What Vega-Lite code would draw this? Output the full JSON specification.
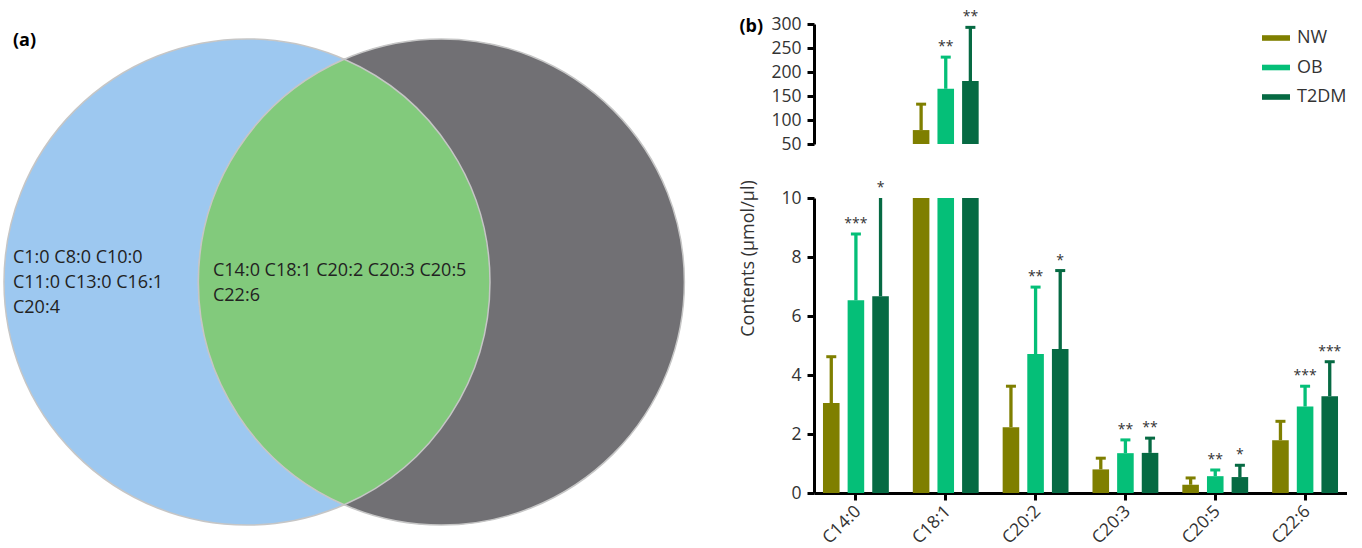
{
  "$schema": "https://vega.github.io/schema/vega-lite/v6.json",
  "padding": {"left": 0, "top": 10, "right": 0, "bottom": 0},
  "background": "white",
  "bounds": "flush",
  "spacing": 123,
  "config": {
    "view": {"stroke": null},
    "font": "Open Sans",
    "axis": {"labelFont": "Open Sans", "titleFont": "Open Sans", "labelOverlap": false},
    "legend": {"labelFont": "Open Sans"}
  },
  "datasets": {
    "fa": [
      {"acid": "C14:0", "group": "NW", "mean": 3.05, "hi": 4.62, "sig": ""},
      {"acid": "C14:0", "group": "OB", "mean": 6.53, "hi": 8.78, "sig": "***"},
      {"acid": "C14:0", "group": "T2DM", "mean": 6.67, "hi": 11.2, "sig": "*"},
      {"acid": "C18:1", "group": "NW", "mean": 79, "hi": 133, "sig": ""},
      {"acid": "C18:1", "group": "OB", "mean": 165, "hi": 231, "sig": "**"},
      {"acid": "C18:1", "group": "T2DM", "mean": 181, "hi": 293, "sig": "**"},
      {"acid": "C20:2", "group": "NW", "mean": 2.23, "hi": 3.62, "sig": ""},
      {"acid": "C20:2", "group": "OB", "mean": 4.71, "hi": 6.98, "sig": "**"},
      {"acid": "C20:2", "group": "T2DM", "mean": 4.88, "hi": 7.54, "sig": "*"},
      {"acid": "C20:3", "group": "NW", "mean": 0.8, "hi": 1.18, "sig": ""},
      {"acid": "C20:3", "group": "OB", "mean": 1.35, "hi": 1.8, "sig": "**"},
      {"acid": "C20:3", "group": "T2DM", "mean": 1.36, "hi": 1.86, "sig": "**"},
      {"acid": "C20:5", "group": "NW", "mean": 0.28, "hi": 0.51, "sig": ""},
      {"acid": "C20:5", "group": "OB", "mean": 0.57, "hi": 0.78, "sig": "**"},
      {"acid": "C20:5", "group": "T2DM", "mean": 0.54, "hi": 0.94, "sig": "*"},
      {"acid": "C22:6", "group": "NW", "mean": 1.79, "hi": 2.43, "sig": ""},
      {"acid": "C22:6", "group": "OB", "mean": 2.93, "hi": 3.62, "sig": "***"},
      {"acid": "C22:6", "group": "T2DM", "mean": 3.28, "hi": 4.45, "sig": "***"}
    ]
  },
  "hconcat": [
    {
      "width": 690,
      "height": 524,
      "encoding": {
        "x": {"field": "cx", "type": "quantitative", "scale": {"domain": [-1.0123, 1.8272], "nice": false, "zero": false}, "axis": null},
        "y": {"field": "cy", "type": "quantitative", "scale": {"domain": [-1.0947, 1.0617], "nice": false, "zero": false}, "axis": null}
      },
      "layer": [
        {
          "data": {"values": [{"set": "Differential in OB vs NW", "cx": 0, "cy": 0}]},
          "mark": {"type": "point", "shape": "circle", "filled": true, "size": 236196, "fill": "#9dc8f0", "stroke": "#c6c6c6", "strokeWidth": 1.5, "opacity": 1}
        },
        {
          "data": {"values": [{"set": "Differential in T2DM vs NW", "cx": 0.8, "cy": 0}]},
          "mark": {"type": "point", "shape": "circle", "filled": true, "size": 236196, "fill": "#717074", "stroke": "#c6c6c6", "strokeWidth": 1.5, "opacity": 1}
        },
        {
          "data": {"values": [{"set": "Shared", "cx": 0.4, "cy": 0}]},
          "mark": {"type": "point", "shape": "M0,-0.9165A1,1,0,0,1,0,0.9165A1,1,0,0,1,0,-0.9165Z", "filled": true, "size": 236196, "fill": "#82ca7c", "stroke": "#c6c6c6", "strokeWidth": 1.5, "opacity": 1}
        },
        {
          "data": {"values": [
            {"t": "C1:0 C8:0 C10:0", "cx": -0.963, "cy": 0.0794},
            {"t": "C11:0 C13:0 C16:1", "cx": -0.963, "cy": -0.026},
            {"t": "C20:4", "cx": -0.963, "cy": -0.1288},
            {"t": "C14:0 C18:1 C20:2 C20:3 C20:5", "cx": -0.1399, "cy": 0.0247},
            {"t": "C22:6", "cx": -0.1399, "cy": -0.0782}
          ]},
          "mark": {"type": "text", "align": "left", "baseline": "alphabetic", "fontSize": 18, "color": "#222222"},
          "encoding": {"text": {"field": "t"}}
        },
        {
          "data": {"values": [{"t": "(a)", "cx": -0.963, "cy": 0.9712}]},
          "mark": {"type": "text", "align": "left", "baseline": "alphabetic", "fontSize": 18, "fontWeight": "bold", "color": "#000000"},
          "encoding": {"text": {"field": "t"}}
        }
      ]
    },
    {
      "bounds": "flush",
      "spacing": 54,
      "resolve": {"scale": {"color": "independent"}, "legend": {"color": "independent"}},
      "vconcat": [
        {
          "width": 533,
          "height": 120,
          "data": {"name": "fa"},
          "transform": [{"filter": "datum.acid === 'C18:1'"}],
          "encoding": {
            "x": {"field": "acid", "type": "nominal", "sort": null, "scale": {"domain": ["C14:0", "C18:1", "C20:2", "C20:3", "C20:5", "C22:6"], "paddingInner": 0.267, "paddingOuter": 0.1}, "axis": null},
            "xOffset": {"field": "group", "type": "nominal", "scale": {"domain": ["NW", "OB", "T2DM"], "paddingInner": 0.327, "paddingOuter": 0}},
            "color": {"field": "group", "type": "nominal", "scale": {"domain": ["NW", "OB", "T2DM"], "range": ["#7f7f00", "#05bf78", "#066a43"]},
              "legend": {"orient": "none", "legendX": 448, "legendY": 0, "title": null, "symbolType": "M-1,-0.2H1V0.2H-1Z", "symbolSize": 784, "symbolStrokeWidth": 0, "symbolOpacity": 1, "labelFontSize": 18, "labelColor": "#333333", "labelOffset": 7, "rowPadding": 6.5, "padding": 0}}
          },
          "layer": [
            {
              "mark": {"type": "bar", "clip": true, "opacity": 1},
              "encoding": {
                "y": {"field": "mean", "type": "quantitative", "stack": null, "scale": {"domain": [50, 300], "nice": false, "zero": false},
                  "axis": {"values": [50, 100, 150, 200, 250, 300], "labelOverlap": false, "grid": false, "domainColor": "#000000", "domainWidth": 3, "tickColor": "#000000", "tickWidth": 3, "tickSize": 7, "labelFontSize": 17.5, "labelColor": "#333333", "labelPadding": 6,
                    "title": "(b)", "titleAngle": 0, "titleX": -75, "titleY": 2, "titleAlign": "left", "titleBaseline": "middle", "titleFontWeight": "bold", "titleFontSize": 18, "titleColor": "#000000"}},
                "y2": {"datum": 50}
              }
            },
            {
              "mark": {"type": "rule", "strokeWidth": 3.3, "opacity": 1},
              "encoding": {"y": {"field": "mean", "type": "quantitative",
                  "axis": {"values": [50, 100, 150, 200, 250, 300], "labelOverlap": false, "grid": false, "domainColor": "#000000", "domainWidth": 3, "tickColor": "#000000", "tickWidth": 3, "tickSize": 7, "labelFontSize": 17.5, "labelColor": "#333333", "labelPadding": 6,
                    "title": "(b)", "titleAngle": 0, "titleX": -75, "titleY": 2, "titleAlign": "left", "titleBaseline": "middle", "titleFontWeight": "bold", "titleFontSize": 18, "titleColor": "#000000"}}, "y2": {"field": "hi"}}
            },
            {
              "mark": {"type": "tick", "size": 10, "thickness": 3, "opacity": 1},
              "encoding": {"y": {"field": "hi", "type": "quantitative",
                  "axis": {"values": [50, 100, 150, 200, 250, 300], "labelOverlap": false, "grid": false, "domainColor": "#000000", "domainWidth": 3, "tickColor": "#000000", "tickWidth": 3, "tickSize": 7, "labelFontSize": 17.5, "labelColor": "#333333", "labelPadding": 6,
                    "title": "(b)", "titleAngle": 0, "titleX": -75, "titleY": 2, "titleAlign": "left", "titleBaseline": "middle", "titleFontWeight": "bold", "titleFontSize": 18, "titleColor": "#000000"}}}
            },
            {
              "mark": {"type": "text", "dy": -6, "fontSize": 14, "baseline": "alphabetic", "align": "center"},
              "encoding": {"y": {"field": "hi", "type": "quantitative",
                  "axis": {"values": [50, 100, 150, 200, 250, 300], "labelOverlap": false, "grid": false, "domainColor": "#000000", "domainWidth": 3, "tickColor": "#000000", "tickWidth": 3, "tickSize": 7, "labelFontSize": 17.5, "labelColor": "#333333", "labelPadding": 6,
                    "title": "(b)", "titleAngle": 0, "titleX": -75, "titleY": 2, "titleAlign": "left", "titleBaseline": "middle", "titleFontWeight": "bold", "titleFontSize": 18, "titleColor": "#000000"}}, "text": {"field": "sig"}, "color": {"value": "#333333"}}
            }
          ]
        },
        {
          "width": 533,
          "height": 295,
          "data": {"name": "fa"},
          "encoding": {
            "x": {"field": "acid", "type": "nominal", "sort": null, "scale": {"domain": ["C14:0", "C18:1", "C20:2", "C20:3", "C20:5", "C22:6"], "paddingInner": 0.267, "paddingOuter": 0.1},
              "axis": {"title": null, "labelAngle": -45, "labelAlign": "right", "labelBaseline": "top", "labelFontSize": 17.5, "labelColor": "#333333", "domainColor": "#000000", "domainWidth": 3, "tickColor": "#000000", "tickWidth": 3, "tickSize": 7, "labelPadding": 2, "labelOffset": -4}},
            "xOffset": {"field": "group", "type": "nominal", "scale": {"domain": ["NW", "OB", "T2DM"], "paddingInner": 0.327, "paddingOuter": 0}},
            "color": {"field": "group", "type": "nominal", "scale": {"domain": ["NW", "OB", "T2DM"], "range": ["#7f7f00", "#05bf78", "#066a43"]}, "legend": null}
          },
          "layer": [
            {
              "mark": {"type": "bar", "opacity": 1},
              "encoding": {
                "y": {"field": "mean", "type": "quantitative", "stack": null, "scale": {"domain": [0, 10], "nice": false, "clamp": true},
                  "axis": {"values": [0, 2, 4, 6, 8, 10], "labelOverlap": false, "grid": false, "domainColor": "#000000", "domainWidth": 3, "tickColor": "#000000", "tickWidth": 3, "tickSize": 7, "labelFontSize": 17.5, "labelColor": "#333333", "labelPadding": 6,
                    "title": "Contents (µmol/µl)", "titleAngle": -90, "titleX": -66, "titleY": 60, "titleAlign": "center", "titleBaseline": "middle", "titleFontWeight": "normal", "titleFontSize": 18, "titleColor": "#333333"}}
              }
            },
            {
              "transform": [{"filter": "datum.acid !== 'C18:1'"}],
              "mark": {"type": "rule", "strokeWidth": 3.3, "opacity": 1},
              "encoding": {"y": {"field": "mean", "type": "quantitative"}, "y2": {"field": "hi"}}
            },
            {
              "transform": [{"filter": "datum.acid !== 'C18:1' && datum.hi <= 10"}],
              "mark": {"type": "tick", "size": 10, "thickness": 3, "opacity": 1},
              "encoding": {"y": {"field": "hi", "type": "quantitative"}}
            },
            {
              "transform": [{"filter": "datum.acid !== 'C18:1'"}],
              "mark": {"type": "text", "dy": -6, "fontSize": 14, "baseline": "alphabetic", "align": "center"},
              "encoding": {"y": {"field": "hi", "type": "quantitative"}, "text": {"field": "sig"}, "color": {"value": "#333333"}}
            }
          ]
        }
      ]
    }
  ]
}
